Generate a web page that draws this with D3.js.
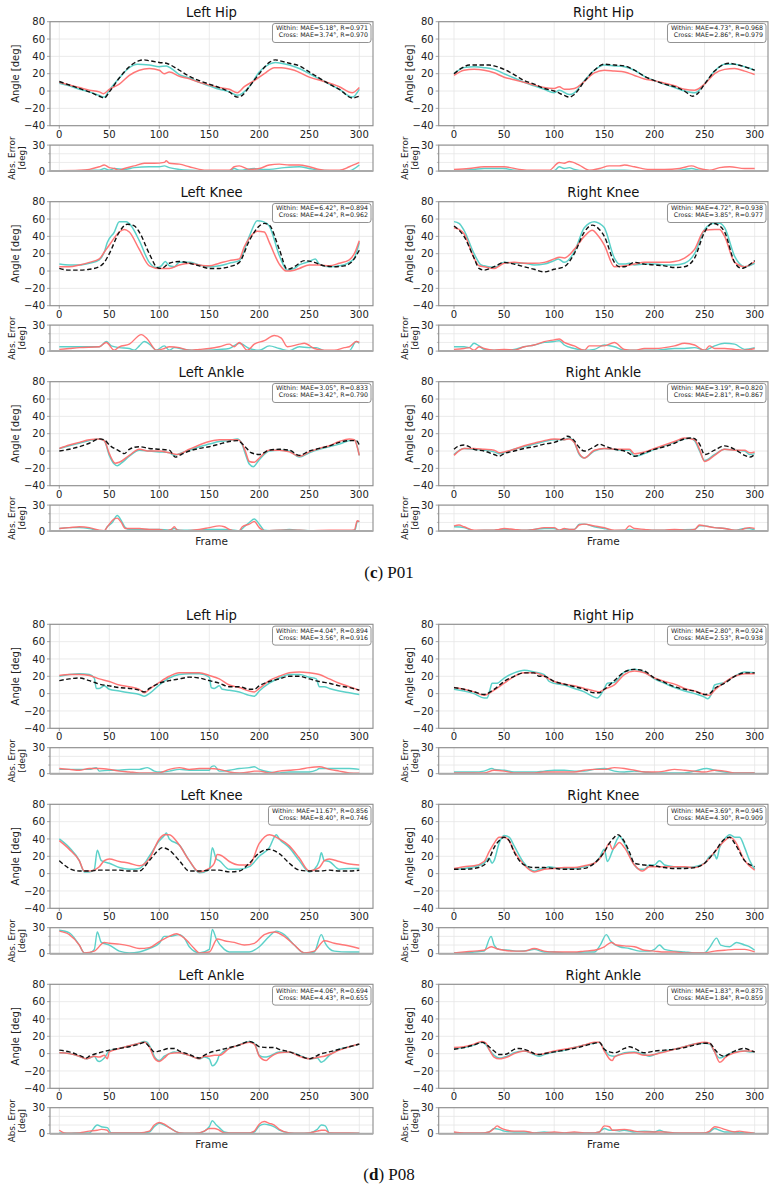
<!DOCTYPE html>
<html><head><meta charset="utf-8">
<script src="https://cdn.jsdelivr.net/npm/d3@7"></script>
<style>body{margin:0;background:#fff}svg{display:block}</style>
</head><body><svg id="c" width="778" height="1188"></svg>
<script>
// ---------- tick values ----------
const xTicks = [0, 50, 100, 150, 200, 250, 300];
const yTicks = [-40, -20, 0, 20, 40, 60, 80];
const errTicks = [0, 30];
const errMinor = [10, 20];
const titles = ["Left Hip", "Right Hip", "Left Knee", "Right Knee", "Left Ankle", "Right Ankle"];
const captions = ["c", "d"];
const subjects = ["P01", "P08"];
const statsText = [
  ["Within: MAE=5.18°, R=0.971", "Cross: MAE=3.74°, R=0.970"],
  ["Within: MAE=4.73°, R=0.968", "Cross: MAE=2.86°, R=0.979"],
  ["Within: MAE=6.42°, R=0.894", "Cross: MAE=4.24°, R=0.962"],
  ["Within: MAE=4.72°, R=0.938", "Cross: MAE=3.85°, R=0.977"],
  ["Within: MAE=3.05°, R=0.833", "Cross: MAE=3.42°, R=0.790"],
  ["Within: MAE=3.19°, R=0.820", "Cross: MAE=2.81°, R=0.867"],
  ["Within: MAE=4.04°, R=0.894", "Cross: MAE=3.56°, R=0.916"],
  ["Within: MAE=2.80°, R=0.924", "Cross: MAE=2.53°, R=0.938"],
  ["Within: MAE=11.67°, R=0.856", "Cross: MAE=8.40°, R=0.746"],
  ["Within: MAE=3.69°, R=0.945", "Cross: MAE=4.30°, R=0.909"],
  ["Within: MAE=4.06°, R=0.694", "Cross: MAE=4.43°, R=0.655"],
  ["Within: MAE=1.83°, R=0.875", "Cross: MAE=1.84°, R=0.859"]
];

// ---------- P01 data [frame, degrees] ----------
const p01_lhip_gt = [[0,11],[10,7],[20,3],[30,-1],[40,-6],[45,-8],[50,-1],[60,15],[70,28],[80,35],[85,36],[90,35],[100,33],[107,32],[120,24],[130,17],[140,12],[150,8],[160,4],[170,-1],[178,-7],[183,-5],[190,5],[200,20],[210,33],[216,36],[220,35],[230,32],[240,29],[250,22],[260,15],[270,8],[280,2],[293,-8],[300,-6]];
const p01_lhip_within = [[0,9],[10,6],[20,2],[30,-1],[40,-5],[45,-7],[50,1],[60,15],[70,27],[78,31],[90,30],[100,28],[107,29],[112,26],[120,19],[130,15],[140,10],[150,6],[160,2],[170,-1],[178,-5],[190,5],[200,22],[210,31],[216,33],[230,30],[240,26],[250,20],[260,14],[270,8],[280,2],[293,-7],[300,2]];
const p01_lhip_cross = [[0,10],[10,7],[20,4],[30,1],[40,-1],[44,-3],[50,2],[60,8],[70,18],[80,24],[90,26],[100,24],[105,20],[110,22],[120,17],[130,14],[140,10],[150,7],[160,4],[170,2],[178,-2],[185,5],[195,12],[205,20],[215,27],[222,27],[235,24],[250,16],[265,11],[280,5],[293,-2],[300,4]];
const p01_lhip_errW = [[0,0.5],[20,0.5],[30,1],[40,1],[45,3],[50,1],[55,3],[65,2],[75,4],[90,5],[100,5],[105,6],[110,4],[120,2],[130,1],[140,0.5],[170,0.5],[175,3],[180,1],[195,3],[200,2],[210,2],[225,4],[240,5],[250,3],[260,1],[270,0.5],[290,0.5],[300,7]];
const p01_lhip_errC = [[0,0.5],[20,1],[30,2],[40,5],[45,7],[50,4],[55,3],[60,1],[65,3],[75,6],[85,9],[95,9],[105,10],[107,12],[110,9],[120,8],[130,5],[140,2],[150,1],[170,1],[175,5],[180,6],[190,2],[200,3],[210,7],[220,8],[230,7],[240,7],[250,5],[260,2],[270,1],[280,1],[290,5],[300,10]];

const p01_rhip_gt = [[0,20],[10,28],[15,30],[35,30],[40,29],[50,25],[60,19],[70,12],[80,8],[90,3],[100,0],[110,-5],[115,-7],[120,-4],[130,11],[140,24],[150,31],[160,30],[170,29],[180,24],[190,17],[200,12],[210,8],[220,5],[230,0],[238,-6],[243,-3],[250,8],[260,23],[270,31],[275,32],[280,31],[290,28],[300,24]];
const p01_rhip_within = [[0,20],[10,27],[20,28],[30,27],[40,25],[50,20],[60,15],[70,10],[80,6],[90,2],[100,-2],[105,1],[115,-4],[120,-2],[130,12],[140,24],[150,30],[160,29],[170,28],[180,24],[190,17],[200,12],[210,8],[220,4],[230,0],[240,-2],[250,8],[260,23],[270,31],[280,31],[290,28],[300,24]];
const p01_rhip_cross = [[0,18],[10,24],[20,25],[30,24],[40,21],[50,16],[60,13],[70,10],[80,7],[90,4],[100,3],[105,5],[110,2],[120,3],[130,11],[140,21],[150,24],[160,23],[170,22],[180,18],[190,14],[200,12],[210,9],[220,6],[230,2],[240,1],[250,8],[260,20],[270,25],[280,26],[290,23],[300,19]];
const p01_rhip_errW = [[0,0.5],[10,1],[20,2],[30,3],[50,3],[60,1],[70,0.5],[100,0.5],[105,5],[110,3],[115,4],[120,2],[130,0.5],[160,1],[170,1],[180,0.5],[220,0.5],[230,2],[237,3],[245,1],[255,0.5],[300,0.5]];
const p01_rhip_errC = [[0,2],[15,3],[30,5],[50,5],[65,2],[80,1],[95,1],[105,10],[110,9],[115,11],[125,7],[135,1],[145,3],[155,6],[165,6],[170,7],[180,5],[195,2],[210,2],[225,3],[237,6],[245,3],[255,1],[265,4],[275,5],[290,3],[300,3]];

const p01_lknee_gt = [[0,3],[10,1],[20,1],[30,2],[40,5],[45,10],[50,20],[60,45],[68,54],[75,52],[80,45],[90,20],[98,4],[102,3],[110,9],[120,11],[130,9],[140,6],[150,3],[160,3],[170,5],[180,10],[190,35],[200,52],[205,55],[210,53],[220,25],[228,2],[235,5],[245,12],[255,10],[265,6],[275,5],[285,6],[292,10],[300,24]];
const p01_lknee_within = [[0,8],[10,7],[20,7],[30,9],[40,13],[45,22],[48,33],[55,45],[60,57],[67,57],[72,52],[80,35],[90,10],[97,4],[102,6],[106,11],[110,6],[115,5],[120,10],[130,10],[140,7],[150,5],[160,6],[170,9],[180,12],[190,40],[198,58],[204,57],[210,52],[220,18],[228,1],[235,3],[240,7],[250,11],[256,14],[260,8],[270,5],[280,6],[290,10],[295,15],[300,33]];
const p01_lknee_cross = [[0,5],[10,5],[20,7],[30,10],[40,14],[45,22],[50,30],[60,45],[65,48],[70,45],[80,25],[90,6],[100,3],[110,3],[120,7],[130,9],[140,7],[150,6],[160,9],[170,12],[180,14],[185,28],[190,38],[198,46],[205,45],[210,33],[220,8],[227,0],[235,1],[240,3],[250,7],[260,7],[270,6],[280,9],[290,13],[295,20],[300,35]];
const p01_lknee_errW = [[0,5],[30,5],[40,5],[47,11],[52,6],[60,4],[70,3],[75,1],[80,6],[85,11],[92,6],[97,1],[105,6],[110,1],[115,4],[125,2],[140,1],[160,2],[170,3],[180,9],[190,3],[200,1],[210,6],[220,3],[230,0.5],[240,5],[250,4],[257,4],[265,0.5],[290,0.5],[297,11],[300,9]];
const p01_lknee_errC = [[0,2],[10,3],[20,4],[40,5],[47,10],[55,1],[60,5],[70,8],[82,19],[88,14],[97,1],[105,3],[110,5],[120,4],[130,1],[140,2],[150,3],[160,5],[170,8],[175,5],[180,10],[188,1],[195,8],[205,12],[215,18],[222,15],[228,5],[240,8],[245,9],[255,3],[265,1],[275,1],[285,4],[290,5],[297,11],[300,10]];

const p01_rknee_gt = [[0,52],[10,40],[20,15],[25,3],[30,1],[40,5],[50,10],[60,8],[70,5],[80,2],[90,-1],[100,2],[110,5],[120,20],[130,45],[138,53],[145,48],[150,40],[160,10],[165,5],[170,5],[180,10],[190,8],[200,7],[210,6],[220,4],[230,5],[240,15],[250,45],[258,55],[265,52],[270,45],[280,10],[287,3],[290,4],[300,12]];
const p01_rknee_within = [[0,57],[5,55],[10,47],[20,20],[27,7],[30,6],[40,4],[50,10],[60,9],[70,9],[80,7],[90,8],[100,12],[104,14],[110,10],[120,22],[130,50],[140,57],[145,55],[150,50],[160,15],[165,8],[170,8],[175,9],[180,7],[190,8],[200,8],[210,7],[220,7],[230,9],[240,20],[250,48],[260,55],[265,55],[270,50],[280,17],[290,5],[300,9]];
const p01_rknee_cross = [[0,50],[5,48],[10,43],[20,15],[25,6],[30,5],[40,3],[50,9],[60,10],[70,9],[80,9],[90,10],[100,14],[105,16],[110,15],[120,25],[130,40],[138,47],[143,42],[150,30],[160,5],[170,6],[180,8],[190,10],[200,10],[210,10],[220,11],[230,15],[240,25],[250,47],[260,48],[265,48],[270,40],[280,10],[290,5],[300,11]];
const p01_rknee_errW = [[0,5],[10,5],[15,4],[20,9],[25,6],[30,2],[40,1],[50,1],[60,2],[70,5],[80,7],[90,10],[100,11],[105,12],[110,7],[120,3],[130,1],[140,2],[150,7],[160,5],[170,1],[200,1],[210,2],[220,3],[230,3],[240,4],[250,1],[260,6],[270,9],[280,8],[290,2],[300,4]];
const p01_rknee_errC = [[0,2],[10,3],[15,4],[20,1],[25,5],[30,3],[40,1],[50,2],[60,1],[70,5],[80,7],[90,11],[100,13],[105,14],[110,10],[120,6],[130,1],[135,6],[150,6],[160,10],[170,2],[180,1],[190,3],[200,3],[210,4],[220,6],[230,9],[240,7],[250,1],[255,6],[260,3],[270,3],[280,2],[290,1],[300,3]];

const p01_lank_gt = [[0,0],[10,2],[20,5],[30,9],[40,14],[45,13],[50,7],[60,0],[65,-3],[70,2],[80,5],[90,3],[100,2],[110,1],[116,-7],[122,-4],[130,0],[140,3],[150,5],[160,8],[170,11],[178,12],[185,6],[192,-2],[200,-4],[210,1],[220,2],[230,1],[240,-5],[250,0],[260,3],[270,6],[280,10],[290,12],[297,12],[300,7]];
const p01_lank_within = [[0,3],[10,6],[20,9],[30,12],[40,14],[45,12],[50,-5],[55,-15],[58,-17],[62,-14],[70,-6],[80,1],[90,0],[100,-1],[110,-2],[115,-5],[120,-3],[130,1],[140,5],[150,8],[160,11],[170,12],[178,14],[182,10],[186,-3],[190,-15],[194,-18],[200,-10],[210,0],[220,1],[230,0],[240,-7],[250,-2],[260,2],[270,5],[280,8],[290,12],[295,13],[300,-5]];
const p01_lank_cross = [[0,3],[10,7],[20,10],[30,13],[40,14],[45,12],[50,-3],[56,-14],[60,-13],[70,-5],[80,2],[90,0],[100,0],[110,-2],[118,-4],[130,2],[140,7],[150,11],[160,13],[170,13],[178,13],[182,10],[186,0],[190,-12],[195,-13],[200,-8],[210,1],[220,1],[230,-1],[240,-6],[250,-1],[260,3],[270,6],[280,11],[290,14],[295,13],[300,-5]];
const p01_lank_errW = [[0,3],[10,4],[20,4],[30,3],[40,0.5],[45,0.5],[48,5],[53,10],[58,18],[62,12],[66,4],[70,2],[100,2],[110,1],[115,3],[120,1],[140,1],[150,2],[165,2],[175,1],[180,0.5],[185,5],[190,10],[195,14],[200,8],[205,1],[210,0.5],[220,1],[230,2],[240,1],[250,0.5],[292,0.5],[296,2],[298,11],[300,11]];
const p01_lank_errC = [[0,3],[10,4],[20,5],[30,4],[40,1],[45,0.5],[48,5],[55,14],[58,15],[62,10],[66,3],[80,3],[90,2],[100,2],[105,0.5],[112,2],[115,5],[118,1],[125,0.5],[140,2],[150,4],[160,6],[165,5],[170,2],[175,0.5],[180,0.5],[183,5],[190,8],[195,11],[200,4],[205,0.5],[220,1],[240,1],[250,0.5],[270,1],[295,1],[298,12],[300,11]];

const p01_rank_gt = [[0,2],[5,6],[10,7],[15,5],[20,2],[30,0],[40,-4],[45,-6],[50,-3],[60,0],[70,3],[80,5],[90,8],[100,10],[110,15],[113,17],[120,12],[125,4],[130,0],[140,5],[145,8],[150,6],[160,2],[170,0],[175,-3],[180,-6],[190,-2],[200,2],[210,5],[220,9],[230,14],[238,15],[245,8],[250,-4],[260,1],[270,6],[280,2],[290,-5],[295,-7],[300,-4]];
const p01_rank_within = [[0,-4],[10,3],[20,2],[30,1],[40,-1],[45,-3],[50,-2],[60,2],[70,5],[80,8],[90,11],[100,13],[110,13],[115,15],[120,10],[125,-4],[130,-8],[140,0],[150,3],[160,2],[170,1],[175,1],[180,-6],[190,-3],[200,2],[210,6],[220,10],[230,14],[235,15],[240,12],[245,0],[250,-11],[260,-4],[270,2],[280,1],[290,0],[295,-4],[300,-3]];
const p01_rank_cross = [[0,-5],[10,3],[20,3],[30,2],[40,1],[45,-2],[50,-1],[60,2],[70,6],[80,9],[90,12],[100,14],[110,13],[115,14],[120,10],[125,-3],[130,-8],[140,1],[150,3],[160,2],[170,2],[175,2],[180,-3],[190,-1],[200,3],[210,7],[220,11],[230,15],[240,13],[245,2],[250,-12],[260,-5],[270,2],[280,1],[290,1],[295,-2],[300,-1]];
const p01_rank_errW = [[0,5],[10,4],[20,0.5],[30,1],[40,1],[50,2],[60,1],[70,1],[80,2],[90,3],[100,3],[105,1],[110,2],[120,2],[125,8],[130,8],[140,5],[150,3],[160,0.5],[170,1],[175,2],[180,1],[240,2],[245,6],[250,6],[260,4],[270,3],[280,1],[290,3],[295,3],[300,1]];
const p01_rank_errC = [[0,6],[5,7],[10,5],[20,1],[40,1],[45,2],[50,3],[60,2],[70,1],[80,2],[90,4],[100,4],[105,1],[110,3],[115,2],[120,2],[125,7],[130,8],[140,6],[150,4],[160,1],[170,1],[175,6],[180,3],[190,2],[200,1],[210,1],[220,2],[230,1],[240,2],[245,7],[250,6],[260,4],[270,3],[280,1],[285,1],[290,3],[295,4],[300,3]];

// ---------- P08 data [frame, degrees] ----------
const p08_lhip_gt = [[0,15],[10,17],[20,18],[30,15],[40,11],[50,9],[60,7],[70,6],[80,4],[85,2],[90,6],[100,12],[110,15],[120,17],[130,19],[140,18],[150,15],[160,12],[170,8],[180,8],[190,5],[195,5],[200,9],[210,14],[220,17],[230,20],[240,20],[250,17],[260,14],[270,12],[280,9],[290,7],[300,4]];
const p08_lhip_within = [[0,20],[10,22],[20,23],[30,22],[35,18],[37,6],[40,6],[45,9],[50,5],[60,3],[70,1],[80,-1],[85,-3],[90,0],[100,10],[110,18],[120,22],[130,23],[140,23],[150,19],[152,7],[155,6],[160,9],[163,5],[170,4],[180,2],[190,-2],[195,-3],[200,3],[210,12],[220,18],[230,22],[240,22],[250,19],[257,17],[260,8],[265,8],[270,6],[280,3],[290,1],[300,-1]];
const p08_lhip_cross = [[0,21],[10,22],[20,22],[30,21],[40,17],[50,14],[60,10],[70,8],[80,5],[85,1],[90,5],[100,13],[110,20],[120,24],[130,24],[140,24],[150,21],[160,17],[170,10],[180,7],[190,3],[195,2],[200,6],[210,15],[220,20],[230,24],[240,25],[250,24],[260,22],[270,17],[280,12],[290,8],[300,4]];
const p08_lhip_errW = [[0,5],[20,5],[30,5],[37,7],[40,3],[50,4],[60,4],[70,5],[80,5],[88,7],[95,3],[100,2],[110,3],[120,5],[130,4],[140,4],[150,4],[152,8],[155,9],[160,3],[170,4],[180,6],[190,7],[195,8],[200,5],[210,2],[220,1],[230,2],[240,2],[250,2],[257,4],[260,6],[270,6],[280,6],[290,6],[300,5]];
const p08_lhip_errC = [[0,6],[10,5],[20,4],[30,6],[40,6],[50,5],[60,3],[70,2],[80,1],[90,1],[100,1],[110,5],[120,7],[130,5],[140,6],[150,6],[160,5],[170,2],[180,1],[190,2],[195,3],[200,3],[210,1],[220,3],[230,4],[240,5],[250,7],[260,8],[270,5],[280,3],[290,1],[300,0.5]];

const p08_rhip_gt = [[0,7],[10,5],[20,2],[30,-1],[40,5],[50,14],[60,20],[70,24],[80,24],[85,20],[90,20],[100,14],[110,11],[120,8],[130,5],[140,1],[145,1],[150,5],[160,15],[170,25],[180,28],[190,26],[200,18],[210,13],[220,8],[230,5],[240,3],[250,-1],[255,0],[260,6],[270,12],[280,20],[290,24],[300,24]];
const p08_rhip_within = [[0,5],[10,3],[20,0],[30,-5],[33,-5],[36,5],[38,12],[43,12],[50,18],[60,24],[70,27],[80,25],[90,22],[95,14],[100,12],[110,10],[120,6],[130,2],[140,-4],[143,-5],[150,6],[153,12],[160,13],[170,25],[180,28],[190,25],[200,17],[210,12],[220,7],[230,3],[240,0],[250,-4],[253,-6],[257,0],[260,10],[270,13],[280,20],[290,25],[300,24]];
const p08_rhip_cross = [[0,7],[10,5],[20,2],[30,-2],[40,4],[50,12],[60,20],[70,24],[80,24],[90,20],[100,14],[110,11],[120,9],[130,6],[140,3],[145,2],[150,5],[160,10],[170,22],[180,26],[190,24],[200,18],[210,14],[220,11],[230,6],[240,3],[250,-1],[255,-2],[260,4],[270,13],[280,20],[290,23],[300,23]];
const p08_rhip_errW = [[0,2],[10,2],[20,2],[30,3],[38,6],[40,5],[50,4],[60,2],[70,2],[80,2],[90,3],[100,4],[110,4],[120,3],[130,3],[140,5],[150,6],[160,3],[170,2],[180,3],[190,2],[200,1],[210,1],[220,1],[230,1],[240,3],[252,6],[260,4],[270,2],[280,1],[290,1],[300,1]];
const p08_rhip_errC = [[0,1],[10,1],[20,1],[30,1],[40,4],[50,3],[60,1],[70,1],[80,1],[90,2],[100,2],[110,2],[120,2],[130,4],[140,5],[150,5],[160,7],[170,6],[180,4],[190,2],[200,2],[210,3],[220,5],[230,4],[240,3],[250,2],[260,4],[270,3],[280,1],[290,1],[300,1]];

const p08_lknee_gt = [[0,15],[5,10],[10,6],[20,3],[30,3],[40,4],[50,4],[60,4],[70,3],[80,3],[90,15],[100,28],[103,30],[110,27],[120,15],[130,3],[140,3],[150,4],[160,4],[170,2],[180,3],[190,12],[200,24],[210,28],[220,23],[230,12],[240,4],[250,3],[260,3],[270,4],[280,3],[290,3],[300,4]];
const p08_lknee_within = [[0,40],[10,30],[20,15],[25,2],[30,2],[35,5],[38,27],[42,15],[50,12],[60,7],[70,5],[80,6],[90,20],[100,38],[105,44],[107,47],[110,40],[120,33],[130,15],[140,1],[150,5],[153,30],[157,17],[160,15],[170,5],[180,5],[190,8],[200,20],[210,30],[217,45],[220,40],[230,30],[240,15],[250,2],[255,5],[260,15],[262,24],[265,15],[270,14],[280,5],[290,6],[300,6]];
const p08_lknee_cross = [[0,38],[10,28],[20,15],[25,3],[30,3],[40,8],[45,15],[50,17],[60,14],[70,12],[80,9],[90,17],[100,40],[105,45],[110,45],[120,33],[130,15],[140,2],[150,6],[155,12],[158,22],[162,21],[170,14],[180,10],[190,10],[200,35],[210,45],[220,40],[230,32],[240,18],[250,3],[260,7],[265,15],[270,17],[280,14],[290,11],[300,10]];
const p08_lknee_errW = [[0,27],[10,24],[20,10],[25,1],[30,1],[35,5],[38,25],[42,13],[50,10],[60,3],[70,1],[80,2],[90,6],[100,12],[105,20],[110,20],[120,22],[125,18],[130,8],[140,1],[150,5],[153,28],[157,17],[165,5],[170,2],[180,2],[190,2],[200,8],[210,20],[217,26],[225,22],[235,10],[245,1],[255,2],[262,22],[266,12],[275,3],[290,2],[300,2]];
const p08_lknee_errC = [[0,26],[10,22],[20,10],[25,1],[35,3],[45,13],[50,12],[60,11],[70,9],[80,6],[90,7],[100,14],[110,20],[117,23],[125,18],[135,6],[140,1],[150,2],[158,17],[165,15],[175,13],[185,10],[195,12],[205,22],[215,25],[225,20],[235,10],[245,1],[255,3],[265,15],[275,12],[285,10],[300,6]];

const p08_rknee_gt = [[0,5],[10,5],[20,6],[30,10],[35,17],[40,30],[45,38],[50,42],[55,38],[60,25],[70,10],[80,7],[90,7],[100,6],[110,5],[120,5],[130,6],[140,12],[150,25],[155,35],[160,42],[163,45],[170,37],[175,25],[180,12],[190,10],[200,9],[210,7],[220,6],[230,6],[240,7],[250,12],[260,25],[270,40],[275,42],[280,35],[290,15],[300,8]];
const p08_rknee_within = [[0,5],[10,6],[20,8],[30,12],[35,18],[38,12],[40,15],[45,35],[50,44],[55,42],[60,32],[70,12],[80,3],[85,5],[90,6],[95,8],[100,7],[110,6],[120,6],[130,8],[140,12],[145,18],[150,28],[153,14],[158,26],[163,40],[165,43],[170,35],[180,10],[185,5],[190,5],[195,10],[200,10],[205,15],[210,10],[220,8],[230,7],[240,8],[250,12],[255,20],[260,22],[262,17],[265,30],[270,40],[275,45],[280,42],[285,42],[290,30],[295,15],[300,5]];
const p08_rknee_cross = [[0,6],[10,8],[20,9],[30,14],[35,25],[40,35],[45,42],[50,42],[55,38],[60,26],[70,10],[80,2],[90,5],[100,6],[110,7],[120,7],[130,9],[140,12],[145,17],[150,25],[155,35],[158,28],[165,36],[170,30],[180,10],[188,3],[195,8],[200,8],[210,8],[220,8],[230,8],[240,7],[250,12],[260,25],[270,38],[275,42],[280,38],[290,15],[300,4]];
const p08_rknee_errW = [[0,1],[10,1],[20,2],[30,3],[37,20],[40,10],[45,5],[55,4],[65,3],[75,4],[80,5],[90,2],[100,2],[110,1],[120,1],[130,2],[140,2],[146,10],[152,22],[156,15],[165,8],[175,6],[185,3],[195,3],[200,5],[205,10],[210,5],[220,3],[230,2],[240,1],[250,1],[255,7],[262,18],[266,10],[275,8],[282,13],[290,10],[295,8],[300,4]];
const p08_rknee_errC = [[0,1],[10,2],[20,3],[30,4],[37,8],[42,6],[50,4],[60,3],[70,3],[80,6],[90,3],[100,2],[110,2],[120,2],[130,3],[140,4],[150,8],[157,13],[162,10],[170,9],[180,8],[190,4],[200,3],[210,2],[220,2],[230,1],[240,1],[250,1],[260,3],[270,4],[280,5],[290,5],[300,2]];

const p08_lank_gt = [[0,4],[10,2],[20,-2],[27,-5],[30,-3],[40,1],[50,4],[60,6],[70,8],[80,11],[85,13],[90,8],[95,2],[100,3],[110,6],[115,6],[120,3],[130,-1],[140,-5],[145,-2],[150,1],[160,4],[170,7],[180,10],[190,14],[195,12],[200,8],[210,7],[215,7],[220,5],[230,2],[240,-2],[250,-6],[255,-4],[260,-1],[270,2],[280,5],[290,8],[300,11]];
const p08_lank_within = [[0,1],[10,0],[20,-3],[27,-6],[30,-5],[35,-3],[38,-8],[40,-9],[45,-5],[50,3],[60,6],[70,9],[80,12],[85,14],[88,13],[92,5],[96,-5],[100,-8],[105,-3],[110,0],[115,2],[120,1],[130,-2],[140,-6],[145,-4],[150,-6],[153,-14],[158,-8],[160,-2],[170,6],[180,10],[190,14],[195,12],[200,-2],[205,-4],[210,-3],[220,2],[230,2],[240,-2],[250,-6],[258,-5],[262,-10],[265,-8],[270,-2],[280,5],[290,8],[300,11]];
const p08_lank_cross = [[0,1],[10,0],[20,-3],[27,-6],[35,-3],[40,-4],[45,-2],[48,-6],[50,2],[60,6],[70,9],[80,12],[85,13],[90,8],[95,-5],[100,-9],[105,-5],[110,0],[120,1],[130,-2],[140,-6],[145,-3],[150,-3],[155,-2],[160,-2],[170,6],[180,10],[190,13],[195,11],[200,-3],[207,-8],[210,-5],[220,1],[230,2],[240,-3],[250,-6],[260,-4],[265,-3],[270,-1],[280,4],[290,8],[300,11]];
const p08_lank_errW = [[0,1],[10,0.5],[20,1],[30,1],[38,10],[42,8],[48,7],[52,1],[60,1],[80,1],[90,2],[95,8],[100,12],[105,10],[110,7],[120,1],[130,0.5],[140,1],[150,8],[153,15],[157,10],[160,7],[165,2],[170,1],[190,1],[195,2],[200,9],[205,11],[210,10],[215,8],[220,4],[230,1],[240,0.5],[250,1],[258,5],[262,10],[266,9],[270,1],[280,0.5],[300,0.5]];
const p08_lank_errC = [[0,4],[5,1],[10,0.5],[20,1],[30,3],[38,4],[42,5],[48,4],[50,1],[80,1],[90,3],[95,10],[100,13],[105,11],[110,7],[120,1],[130,0.5],[140,1],[145,3],[150,6],[155,6],[160,4],[165,1],[190,1],[195,3],[200,11],[205,14],[210,12],[215,10],[220,5],[230,1],[240,0.5],[250,1],[258,3],[262,4],[266,4],[270,1],[290,1],[300,0.5]];

const p08_rank_gt = [[0,5],[10,7],[20,10],[28,13],[35,8],[40,3],[45,-1],[50,-1],[55,1],[60,5],[65,6],[70,5],[75,3],[80,0],[85,-1],[90,0],[100,2],[110,4],[120,6],[130,9],[140,12],[145,13],[150,5],[155,2],[160,1],[170,6],[175,8],[180,6],[190,1],[200,3],[210,4],[220,5],[230,7],[240,10],[250,12],[255,12],[260,5],[265,-1],[270,-3],[275,0],[280,3],[290,6],[295,4],[300,2]];
const p08_rank_within = [[0,6],[10,7],[20,10],[28,13],[32,10],[35,5],[40,-2],[45,-5],[50,-4],[55,-2],[60,1],[70,3],[80,-1],[85,-3],[90,-1],[100,2],[110,4],[120,7],[130,10],[140,12],[145,13],[150,5],[155,-2],[160,-3],[165,-1],[170,1],[180,2],[190,-1],[195,-3],[200,-1],[205,1],[210,3],[220,5],[230,8],[240,11],[250,12],[255,11],[260,2],[265,-5],[270,-3],[275,0],[280,2],[290,3],[295,2],[300,2]];
const p08_rank_cross = [[0,7],[10,8],[20,11],[28,14],[32,12],[35,5],[40,-4],[45,-6],[50,-5],[55,-3],[60,0],[70,3],[80,0],[85,-1],[90,0],[100,3],[110,5],[120,7],[130,10],[140,13],[145,13],[150,3],[155,-6],[158,-8],[160,-4],[170,0],[180,1],[190,-2],[200,-1],[210,2],[220,5],[230,8],[240,11],[250,13],[255,12],[260,2],[265,-10],[268,-8],[270,-5],[280,1],[290,3],[295,3],[300,2]];
const p08_rank_errW = [[0,1],[10,0.5],[20,0.5],[30,1],[35,2],[40,6],[45,5],[50,3],[60,2],[70,2],[80,1],[90,2],[100,1],[140,1],[145,2],[150,6],[155,4],[160,4],[165,3],[170,4],[175,3],[180,2],[190,3],[200,2],[205,4],[210,2],[220,1],[230,0.5],[240,0.5],[250,1],[255,2],[260,6],[265,4],[270,2],[280,2],[290,1],[300,0.5]];
const p08_rank_errC = [[0,2],[10,1],[30,1],[35,2],[40,6],[43,9],[46,7],[50,5],[60,3],[70,3],[80,1],[90,1],[100,2],[110,1],[120,2],[130,1],[140,1],[145,2],[150,9],[155,8],[158,4],[160,4],[170,5],[180,3],[190,2],[210,2],[220,1],[250,1],[255,3],[260,8],[265,7],[270,5],[280,2],[285,3],[290,2],[300,0.5]];

// ---------- assemble panels (row-major: left, right) ----------
const panels = [
  [p01_lhip_gt, p01_lhip_within, p01_lhip_cross, p01_lhip_errW, p01_lhip_errC],
  [p01_rhip_gt, p01_rhip_within, p01_rhip_cross, p01_rhip_errW, p01_rhip_errC],
  [p01_lknee_gt, p01_lknee_within, p01_lknee_cross, p01_lknee_errW, p01_lknee_errC],
  [p01_rknee_gt, p01_rknee_within, p01_rknee_cross, p01_rknee_errW, p01_rknee_errC],
  [p01_lank_gt, p01_lank_within, p01_lank_cross, p01_lank_errW, p01_lank_errC],
  [p01_rank_gt, p01_rank_within, p01_rank_cross, p01_rank_errW, p01_rank_errC],
  [p08_lhip_gt, p08_lhip_within, p08_lhip_cross, p08_lhip_errW, p08_lhip_errC],
  [p08_rhip_gt, p08_rhip_within, p08_rhip_cross, p08_rhip_errW, p08_rhip_errC],
  [p08_lknee_gt, p08_lknee_within, p08_lknee_cross, p08_lknee_errW, p08_lknee_errC],
  [p08_rknee_gt, p08_rknee_within, p08_rknee_cross, p08_rknee_errW, p08_rknee_errC],
  [p08_lank_gt, p08_lank_within, p08_lank_cross, p08_lank_errW, p08_lank_errC],
  [p08_rank_gt, p08_rank_within, p08_rank_cross, p08_rank_errW, p08_rank_errC]
];

// ---------- layout & style ----------
const FONT = "'DejaVu Sans', sans-serif";
const C_WITHIN = "#4ECDC4", C_CROSS = "#FF6B6B";
const SPINE = "#8c8c8c", GRID = "#e6e6e6";
const cols = [
  {left: 50, right: 373, x0: 59.3, x300: 359.3, ylab: 16, e1: 12, e2: 22},
  {left: 438.7, right: 768, x0: 454, x300: 754.7, ylab: 410, e1: 405, e2: 415}
];
const groupTop = [21.7, 624.3];
const rowStep = 180;
const mainH = 104, errOff = 123.4, errH = 26;

const svg = d3.select("#c");
let clipId = 0;

function fmt(v) { return v < 0 ? "\u2212" + Math.abs(v) : String(v); }

function addClip(x, y, w, h) {
  const id = "clip" + (clipId++);
  svg.append("clipPath").attr("id", id).append("rect")
    .attr("x", x).attr("y", y).attr("width", w).attr("height", h);
  return "url(#" + id + ")";
}

function drawPanel(idx) {
  const grp = Math.floor(idx / 6), inG = idx % 6;
  const row = Math.floor(inG / 2), colI = inG % 2;
  const col = cols[colI];
  const top = groupTop[grp] + row * rowStep;
  const [gt, within, cross, errW, errC] = panels[idx];
  const W = col.right - col.left;
  const g = svg.append("g");

  const x = d3.scaleLinear().domain([0, 300]).range([col.x0, col.x300]);
  const y = d3.scaleLinear().domain([-40, 80]).range([top + mainH, top]);

  // grid
  g.selectAll(null).data(xTicks).join("line")
    .attr("x1", d => x(d)).attr("x2", d => x(d)).attr("y1", top).attr("y2", top + mainH)
    .attr("stroke", GRID).attr("stroke-width", 0.8);
  g.selectAll(null).data(yTicks).join("line")
    .attr("x1", col.left).attr("x2", col.right).attr("y1", d => y(d)).attr("y2", d => y(d))
    .attr("stroke", GRID).attr("stroke-width", 0.8);

  const line = d3.line().x(d => x(d[0])).y(d => y(d[1])).curve(d3.curveMonotoneX);
  const clip = addClip(col.left, top, W, mainH);
  const lg = g.append("g").attr("clip-path", clip);
  lg.append("path").attr("d", line(within)).attr("fill", "none").attr("stroke", C_WITHIN)
    .attr("stroke-width", 1.5).attr("stroke-opacity", 0.92);
  lg.append("path").attr("d", line(cross)).attr("fill", "none").attr("stroke", C_CROSS)
    .attr("stroke-width", 1.5).attr("stroke-opacity", 0.92);
  lg.append("path").attr("d", line(gt)).attr("fill", "none").attr("stroke", "#111")
    .attr("stroke-width", 1.4).attr("stroke-dasharray", "4.5,2.5");

  // frame
  g.append("rect").attr("x", col.left).attr("y", top).attr("width", W).attr("height", mainH)
    .attr("fill", "none").attr("stroke", SPINE).attr("stroke-width", 1.1);

  // ticks
  g.selectAll(null).data(xTicks).join("line")
    .attr("x1", d => x(d)).attr("x2", d => x(d)).attr("y1", top + mainH).attr("y2", top + mainH + 3)
    .attr("stroke", SPINE).attr("stroke-width", 0.8);
  g.selectAll(null).data(yTicks).join("line")
    .attr("x1", col.left - 3).attr("x2", col.left).attr("y1", d => y(d)).attr("y2", d => y(d))
    .attr("stroke", SPINE).attr("stroke-width", 0.8);
  g.selectAll(null).data(xTicks).join("text")
    .attr("x", d => x(d)).attr("y", top + mainH + 12).attr("text-anchor", "middle")
    .attr("font-family", FONT).attr("font-size", 10).attr("fill", "#222").text(d => d);
  g.selectAll(null).data(yTicks).join("text")
    .attr("x", col.left - 5).attr("y", d => y(d) + 3.6).attr("text-anchor", "end")
    .attr("font-family", FONT).attr("font-size", 10).attr("fill", "#222").text(fmt);

  // title and axis label
  g.append("text").attr("x", (col.left + col.right) / 2).attr("y", top - 4.3)
    .attr("text-anchor", "middle").attr("font-family", FONT).attr("font-size", 13.2)
    .attr("fill", "#111").text(titles[inG]);
  g.append("text").attr("transform", `translate(${col.ylab + 3},${top + mainH / 2}) rotate(-90)`)
    .attr("text-anchor", "middle").attr("font-family", FONT).attr("font-size", 10)
    .attr("fill", "#222").text("Angle [deg]");

  // stats box
  const bx = g.append("g");
  const t1 = bx.append("text").attr("x", col.right - 5).attr("y", top + 8.6)
    .attr("text-anchor", "end").attr("font-family", FONT).attr("font-size", 6.3)
    .attr("fill", "#222").text(statsText[idx][0]);
  const t2 = bx.append("text").attr("x", col.right - 5).attr("y", top + 15.7)
    .attr("text-anchor", "end").attr("font-family", FONT).attr("font-size", 6.3)
    .attr("fill", "#222").text(statsText[idx][1]);
  const tw = Math.max(t1.node().getComputedTextLength(), t2.node().getComputedTextLength());
  bx.insert("rect", "text").attr("x", col.right - 5 - tw - 3.5).attr("y", top + 1.8)
    .attr("width", tw + 6.5).attr("height", 19).attr("rx", 2.5)
    .attr("fill", "#fff").attr("fill-opacity", 0.85).attr("stroke", "#777").attr("stroke-width", 0.8);

  // ---- error subplot ----
  const et = top + errOff;
  const ye = d3.scaleLinear().domain([0, 30]).range([et + errH, et]);
  g.selectAll(null).data(xTicks).join("line")
    .attr("x1", d => x(d)).attr("x2", d => x(d)).attr("y1", et).attr("y2", et + errH)
    .attr("stroke", GRID).attr("stroke-width", 0.8);
  g.selectAll(null).data(errMinor.concat(errTicks)).join("line")
    .attr("x1", col.left).attr("x2", col.right).attr("y1", d => ye(d)).attr("y2", d => ye(d))
    .attr("stroke", GRID).attr("stroke-width", 0.8);
  const eline = d3.line().x(d => x(d[0])).y(d => ye(d[1])).curve(d3.curveMonotoneX);
  const eclip = addClip(col.left, et, W, errH);
  const eg = g.append("g").attr("clip-path", eclip);
  eg.append("path").attr("d", eline(errW)).attr("fill", "none").attr("stroke", C_WITHIN)
    .attr("stroke-width", 1.4).attr("stroke-opacity", 0.92);
  eg.append("path").attr("d", eline(errC)).attr("fill", "none").attr("stroke", C_CROSS)
    .attr("stroke-width", 1.4).attr("stroke-opacity", 0.92);
  g.append("rect").attr("x", col.left).attr("y", et).attr("width", W).attr("height", errH)
    .attr("fill", "none").attr("stroke", SPINE).attr("stroke-width", 1.1);
  g.append("line").attr("x1", col.left).attr("x2", col.right).attr("y1", et + errH).attr("y2", et + errH)
    .attr("stroke", "#aaa").attr("stroke-width", 2);
  g.selectAll(null).data(errTicks).join("line")
    .attr("x1", col.left - 3).attr("x2", col.left).attr("y1", d => ye(d)).attr("y2", d => ye(d))
    .attr("stroke", SPINE).attr("stroke-width", 0.8);
  g.selectAll(null).data(errMinor).join("line")
    .attr("x1", col.left - 1.8).attr("x2", col.left).attr("y1", d => ye(d)).attr("y2", d => ye(d))
    .attr("stroke", SPINE).attr("stroke-width", 0.6);
  g.selectAll(null).data(errTicks).join("text")
    .attr("x", col.left - 5).attr("y", d => ye(d) + 3.6).attr("text-anchor", "end")
    .attr("font-family", FONT).attr("font-size", 10).attr("fill", "#222").text(d => d);
  const ecy = et + errH / 2;
  g.append("text").attr("transform", `translate(${col.e1 + 3},${ecy}) rotate(-90)`)
    .attr("text-anchor", "middle").attr("font-family", FONT).attr("font-size", 8.8)
    .attr("fill", "#222").text("Abs. Error");
  g.append("text").attr("transform", `translate(${col.e2 + 3},${ecy}) rotate(-90)`)
    .attr("text-anchor", "middle").attr("font-family", FONT).attr("font-size", 8.8)
    .attr("fill", "#222").text("[deg]");

  if (row === 2) {
    g.append("text").attr("x", (col.left + col.right) / 2).attr("y", et + errH + 14)
      .attr("text-anchor", "middle").attr("font-family", FONT).attr("font-size", 10.5)
      .attr("fill", "#222").text("Frame");
  }
}

for (let i = 0; i < panels.length; i++) drawPanel(i);

// captions
captions.forEach((c, i) => {
  const t = svg.append("text").attr("x", 389).attr("y", groupTop[i] + 556)
    .attr("text-anchor", "middle").attr("font-family", "'Liberation Serif', serif")
    .attr("font-size", 17).attr("fill", "#111");
  t.append("tspan").text("(");
  t.append("tspan").attr("font-weight", "bold").text(c);
  t.append("tspan").text(") " + subjects[i]);
});
</script>
</body></html>
